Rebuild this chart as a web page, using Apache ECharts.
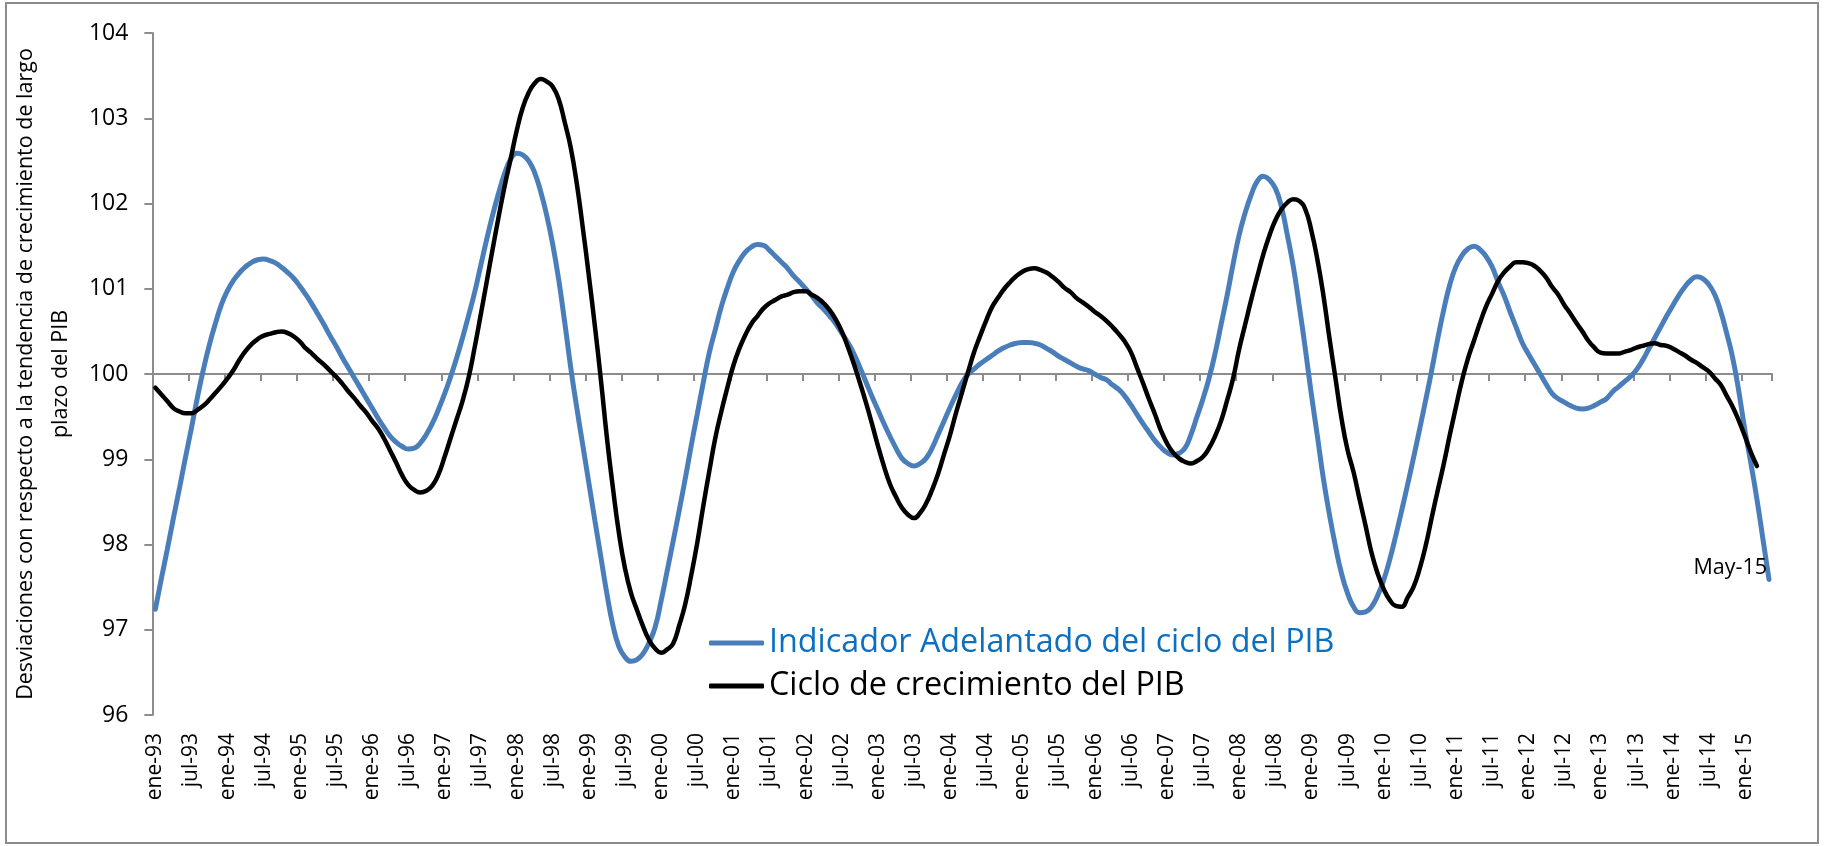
<!DOCTYPE html>
<html>
<head>
<meta charset="utf-8">
<script src="https://cdn.jsdelivr.net/npm/echarts@6.0.0/dist/echarts.min.js"></script>
<style>
  html, body { margin: 0; padding: 0; background: #fff; }
  #chart { width: 1825px; height: 846px; }
</style>
</head>
<body>
<div id="chart"></div>
<script>
// monthly categories ene-93 .. may-15
const monthNames = ['ene', 'feb', 'mar', 'abr', 'may', 'jun', 'jul', 'ago', 'sep', 'oct', 'nov', 'dic']
const categories = []
for (let y = 1993; y <= 2015; y++) {
  for (let m = 0; m < 12; m++) {
    if (y === 2015 && m > 4) break
    categories.push(monthNames[m] + '-' + String(y % 100).padStart(2, '0'))
  }
}

const seriesNames = ['Indicador Adelantado del ciclo del PIB', 'Ciclo de crecimiento del PIB']
const endLabelText = 'May-15'

// Indicador Adelantado (ene-93 .. may-15), one row per year
const indicador = [
  97.24, 97.6, 97.95, 98.31, 98.66, 99.02, 99.37, 99.73, 100.06, 100.35, 100.6, 100.82,
  100.98, 101.1, 101.19, 101.26, 101.31, 101.34, 101.35, 101.33, 101.3, 101.25, 101.19, 101.12,
  101.03, 100.93, 100.82, 100.7, 100.58, 100.45, 100.33, 100.2, 100.08, 99.96, 99.84, 99.72,
  99.6, 99.48, 99.37, 99.27, 99.2, 99.15, 99.12, 99.13, 99.19, 99.29, 99.42, 99.58,
  99.76, 99.96, 100.18, 100.42, 100.68, 100.95, 101.26, 101.57, 101.86, 102.12, 102.35, 102.52,
  102.59, 102.57, 102.5, 102.36, 102.14, 101.86, 101.52, 101.1, 100.6, 100.07, 99.6, 99.16,
  98.72, 98.28, 97.85, 97.42, 97.05, 96.8, 96.68, 96.63, 96.65, 96.72, 96.85, 97.03,
  97.34, 97.69, 98.04, 98.4, 98.77, 99.16, 99.53, 99.9, 100.25, 100.52, 100.79, 101.01,
  101.2, 101.33, 101.43, 101.49, 101.52, 101.51, 101.45, 101.38, 101.31, 101.24, 101.15, 101.08,
  101.0, 100.92, 100.83, 100.76, 100.68, 100.59, 100.48, 100.37, 100.24, 100.08, 99.91, 99.74,
  99.58, 99.42, 99.27, 99.13, 99.01, 98.95, 98.92, 98.95, 99.01, 99.13, 99.29, 99.45,
  99.61, 99.76, 99.9, 100.0, 100.06, 100.12, 100.17, 100.22, 100.27, 100.31, 100.34, 100.36,
  100.37, 100.37, 100.36, 100.34, 100.3, 100.26, 100.21, 100.17, 100.13, 100.09, 100.06, 100.04,
  100.0, 99.96, 99.93, 99.87, 99.82, 99.74, 99.64, 99.53, 99.42, 99.32, 99.22, 99.14,
  99.08, 99.05, 99.07, 99.13, 99.29, 99.5, 99.71, 99.95, 100.24, 100.58, 100.92, 101.29,
  101.63, 101.89, 102.1, 102.26, 102.32, 102.28, 102.18, 101.97, 101.63, 101.26, 100.79, 100.29,
  99.76, 99.27, 98.77, 98.35, 97.98, 97.66, 97.43, 97.27, 97.2, 97.21, 97.27, 97.4,
  97.58, 97.82, 98.1, 98.4, 98.71, 99.03, 99.36, 99.7, 100.05, 100.42, 100.76, 101.05,
  101.26, 101.39, 101.47, 101.5, 101.46, 101.38, 101.26, 101.08, 100.92, 100.73, 100.55, 100.37,
  100.24, 100.12, 100.0, 99.88, 99.77, 99.71, 99.67, 99.63, 99.6, 99.59, 99.6, 99.63,
  99.67, 99.71, 99.79, 99.85, 99.91, 99.97, 100.05, 100.16, 100.29, 100.42, 100.55, 100.68,
  100.8, 100.92, 101.02, 101.1, 101.14, 101.12, 101.05, 100.93, 100.73, 100.47, 100.18, 99.79,
  99.34, 98.95, 98.53, 98.06, 97.59,
]

// Ciclo de crecimiento (ene-93 .. mar-15)
const ciclo = [
  99.84, 99.76, 99.68, 99.6, 99.56, 99.54, 99.54, 99.58, 99.63, 99.7, 99.78, 99.86,
  99.95, 100.05, 100.17, 100.27, 100.35, 100.41, 100.45, 100.47, 100.49, 100.5, 100.48, 100.44,
  100.38, 100.3, 100.24, 100.17, 100.11, 100.04, 99.97, 99.89, 99.8, 99.72, 99.63, 99.55,
  99.45, 99.36, 99.24, 99.1, 98.96, 98.81, 98.7, 98.64, 98.61, 98.63, 98.69, 98.82,
  99.02, 99.24, 99.46, 99.68, 99.95, 100.3, 100.68, 101.07, 101.46, 101.84, 102.2, 102.52,
  102.85, 103.12, 103.3, 103.41, 103.46, 103.43, 103.37, 103.22, 102.95, 102.65, 102.23, 101.71,
  101.15, 100.56, 99.93, 99.25, 98.66, 98.13, 97.72, 97.43, 97.23, 97.04, 96.88, 96.78,
  96.73, 96.77, 96.84, 97.05, 97.3, 97.64, 98.02, 98.45, 98.86, 99.25, 99.56, 99.84,
  100.1, 100.3, 100.46, 100.59, 100.68, 100.77, 100.83, 100.87, 100.91, 100.93, 100.96, 100.97,
  100.97, 100.93, 100.89, 100.83, 100.75, 100.64, 100.5, 100.32, 100.12, 99.9, 99.67, 99.42,
  99.16, 98.92, 98.71, 98.56, 98.43, 98.35, 98.31, 98.37, 98.48, 98.64, 98.83, 99.06,
  99.29, 99.55, 99.79, 100.03, 100.26, 100.45, 100.63, 100.79, 100.9, 101.0, 101.08, 101.15,
  101.2, 101.23, 101.24, 101.22, 101.19, 101.14, 101.08, 101.01, 100.96, 100.89, 100.84, 100.79,
  100.73, 100.68, 100.62, 100.55, 100.47, 100.38, 100.26, 100.08, 99.9, 99.71, 99.53, 99.34,
  99.19, 99.08, 99.01, 98.97, 98.95, 98.98, 99.03, 99.13, 99.27, 99.45, 99.69, 99.95,
  100.29, 100.58, 100.87, 101.14, 101.4, 101.62, 101.8, 101.93, 102.01, 102.05, 102.03, 101.93,
  101.68, 101.34, 100.92, 100.42, 99.95, 99.48, 99.11, 98.85, 98.53, 98.22, 97.9, 97.66,
  97.48, 97.35, 97.28, 97.27, 97.38, 97.51, 97.72, 97.99, 98.32, 98.64, 98.95, 99.29,
  99.61, 99.92, 100.18, 100.39, 100.6, 100.79, 100.94, 101.09, 101.19, 101.26, 101.31, 101.31,
  101.3, 101.27, 101.21, 101.13, 101.02, 100.93, 100.81, 100.71, 100.6, 100.5, 100.39, 100.31,
  100.25, 100.24, 100.24, 100.24, 100.26, 100.28, 100.31, 100.33, 100.35, 100.36, 100.34, 100.33,
  100.3, 100.26, 100.22, 100.17, 100.13, 100.08, 100.03, 99.95, 99.87, 99.74, 99.61, 99.45,
  99.27, 99.08, 98.92,
]

const FONT = '"Open Sans", "DejaVu Sans", sans-serif'
const GRID = { left: 142, right: 53, top: 33, bottom: 131 }
const plotHeight = 846 - GRID.top - GRID.bottom

const chart = echarts.init(document.getElementById('chart'), null, { renderer: 'canvas' })

const option = {
  animation: false,
  backgroundColor: '#ffffff',
  graphic: [
    {
      type: 'rect',
      shape: { x: 6, y: 3, width: 1812, height: 840 },
      style: { fill: 'none', stroke: '#8c8c8c', lineWidth: 2 },
      silent: true,
    },
  ],
  grid: GRID,
  legend: {
    orient: 'vertical',
    left: 704,
    top: 622,
    icon: 'roundRect',
    itemWidth: 55,
    itemHeight: 5,
    itemGap: 11,
    textStyle: { fontFamily: FONT, fontSize: 32.3, lineHeight: 32 },
    data: [
      { name: seriesNames[0], textStyle: { color: '#0b6fc2' } },
      { name: seriesNames[1], textStyle: { color: '#000000' } },
    ],
  },
  xAxis: [
    {
      type: 'category',
      data: categories,
      boundaryGap: true,
      axisLine: { show: false },
      axisTick: { show: false },
      axisLabel: {
        interval: 5,
        rotate: 90,
        margin: 18,
        color: '#000',
        fontFamily: FONT,
        fontSize: 21,
      },
    },
    {
      // horizontal line at 100 with half-year ticks
      type: 'category',
      data: categories,
      position: 'bottom',
      offset: -plotHeight / 2,
      boundaryGap: true,
      axisLine: { show: true, onZero: false, lineStyle: { color: '#8c8c8c', width: 2 } },
      axisTick: { show: true, interval: 5, length: 7, lineStyle: { color: '#8c8c8c', width: 2 } },
      axisLabel: { show: false },
      splitLine: { show: false },
    },
  ],
  yAxis: {
    type: 'value',
    min: 96,
    max: 104,
    interval: 1,
    name: 'Desviaciones con respecto a la tendencia de crecimiento de largo\nplazo del PIB',
    nameLocation: 'middle',
    nameRotate: 90,
    nameGap: 62,
    nameTextStyle: { fontFamily: FONT, fontSize: 21.5, lineHeight: 35, color: '#000' },
    axisLine: { show: true, lineStyle: { color: '#8c8c8c', width: 2 } },
    axisTick: { show: true, length: 8, lineStyle: { color: '#8c8c8c', width: 2 } },
    axisLabel: { color: '#000', fontFamily: FONT, fontSize: 23, margin: 24 },
    splitLine: { show: false },
  },
  series: [
    {
      name: seriesNames[0],
      type: 'line',
      data: indicador,
      smooth: true,
      showSymbol: false,
      lineStyle: { color: '#4a7ebb', width: 5, cap: 'round' },
      itemStyle: { color: '#4a7ebb' },
      endLabel: {
        show: true,
        formatter: endLabelText,
        align: 'right',
        offset: [-10, -12],
        color: '#000',
        fontFamily: FONT,
        fontSize: 21.5,
      },
      z: 2,
    },
    {
      name: seriesNames[1],
      type: 'line',
      data: ciclo,
      smooth: true,
      showSymbol: false,
      lineStyle: { color: '#000000', width: 4.5, cap: 'round' },
      itemStyle: { color: '#000000' },
      z: 3,
    },
  ],
}

chart.setOption(option)
</script>
</body>
</html>
